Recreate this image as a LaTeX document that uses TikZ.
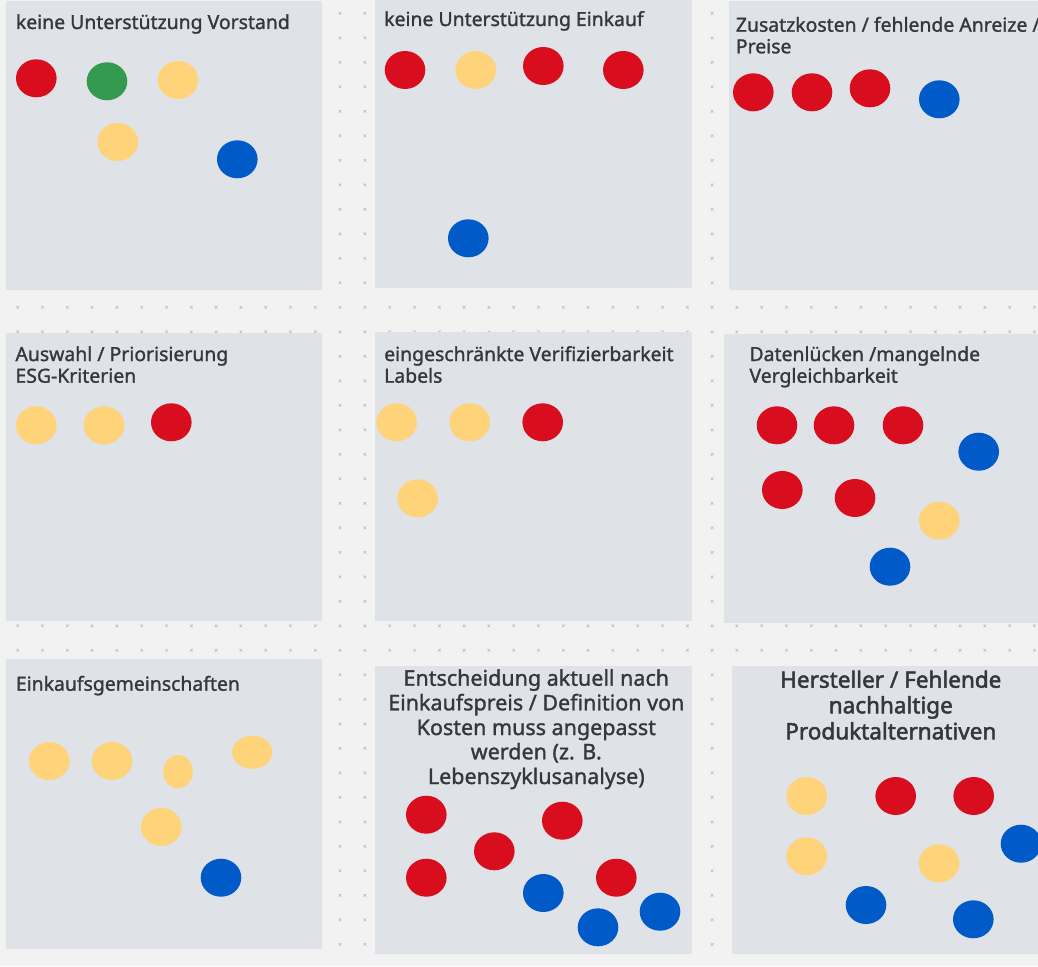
\documentclass[tikz,border=0pt]{standalone}
\usepackage{fontspec}
\setmainfont{Noto Sans}
\newfontfamily\semib[FakeBold=1.3]{Noto Sans}
\newfontfamily\strongb[FakeBold=2.2]{Noto Sans}
\definecolor{bgc}{HTML}{F2F2F2}
\definecolor{panelc}{HTML}{DFE2E7}
\definecolor{markc}{HTML}{BDBDBD}
\definecolor{txtc}{HTML}{34373C}
\definecolor{redc}{HTML}{D80D1E}
\definecolor{greenc}{HTML}{339A4F}
\definecolor{yelc}{HTML}{FFD379}
\definecolor{bluec}{HTML}{005AC8}
\tikzset{
  panel/.style={fill=panelc},
  dotr/.style={fill=redc},
  dotg/.style={fill=greenc},
  doty/.style={fill=yelc},
  dotb/.style={fill=bluec},
  ttl/.style={inner sep=0pt, anchor=base west, text=txtc, font=\semib\fontsize{19.4}{22}\selectfont},
  bttl/.style={inner sep=0pt, anchor=base, text=txtc, font=\semib\fontsize{21.5}{24}\selectfont},
  cttl/.style={inner sep=0pt, anchor=base, text=txtc, font=\strongb\fontsize{22.5}{26}\selectfont},
}
\newcommand{\dt}[3]{\fill[#1] (#2,#3) ellipse [x radius=20.3, y radius=19];}
\begin{document}
\begin{tikzpicture}[x=1pt,y=-1pt]
\useasboundingbox (0,0) rectangle (1038,966);
\fill[bgc] (0,0) rectangle (1038,966);
\foreach \i in {0,...,41} \foreach \j in {0,...,38} {
  \draw[markc, line width=0.6pt] ({17.7+24.8*\i-1.3},{13.3+24.5*\j-1.3}) -- ++(2.6,2.6)
    ({17.7+24.8*\i-1.3},{13.3+24.5*\j+1.3}) -- ++(2.6,-2.6);
}
% panels
\fill[panel] (6,1) rectangle (322,289.5);
\fill[panel] (375,0) rectangle (692,287.5);
\fill[panel] (728.5,1) rectangle (1038,289.5);
\fill[panel] (6,332.5) rectangle (322,621);
\fill[panel] (375,331.5) rectangle (692,621);
\fill[panel] (723.5,333.5) rectangle (1038,622.5);
\fill[panel] (6,659) rectangle (322,948.5);
\fill[panel] (375,666) rectangle (692,953.5);
\fill[panel] (731.5,666) rectangle (1038,954);
% titles
\node[ttl] (t1) at (15.7,29) {keine Unterstützung Vorstand};
\node[ttl] (t2) at (384,26) {keine Unterstützung Einkauf};
\node[ttl] (t3a) at (735.7,31.7) {Zusatzkosten / fehlende Anreize /};
\node[ttl] (t3b) at (735.7,53.3) {Preise};
\node[ttl] (t4a) at (15.3,361) {Auswahl / Priorisierung};
\node[ttl] (t4b) at (15.3,382.7) {ESG-Kriterien};
\node[ttl] (t5a) at (384,361) {eingeschränkte Verifizierbarkeit};
\node[ttl] (t5b) at (384,382.7) {Labels};
\node[ttl] (t6a) at (749.3,361) {Datenlücken /mangelnde};
\node[ttl] (t6b) at (749.3,382.7) {Vergleichbarkeit};
\node[ttl] (t7) at (15.7,690.7) {Einkaufsgemeinschaften};
\node[bttl] (t8a) at (536.3,685.7) {Entscheidung aktuell nach};
\node[bttl] (t8b) at (536.3,710.3) {Einkaufspreis / Definition von};
\node[bttl] (t8c) at (536.3,735) {Kosten muss angepasst};
\node[bttl] (t8d) at (536.3,759.3) {werden (z. B.};
\node[bttl] (t8e) at (536.3,784) {Lebenszyklusanalyse)};
\node[cttl] (t9a) at (890.8,687.7) {Hersteller / Fehlende};
\node[cttl] (t9b) at (890.8,713.3) {nachhaltige};
\node[cttl] (t9c) at (890.8,739.3) {Produktalternativen};
% panel 1
\dt{dotr}{36.3}{78.3}
\dt{dotg}{107}{81.3}
\dt{doty}{178}{80}
\dt{doty}{117.7}{142}
\dt{dotb}{237.3}{159.3}
% panel 2
\dt{dotr}{405}{70}
\dt{doty}{475.7}{70}
\dt{dotr}{543.3}{66}
\dt{dotr}{623.3}{70}
\dt{dotb}{468.3}{238.3}
% panel 3
\dt{dotr}{753.3}{92.3}
\dt{dotr}{812}{92.3}
\dt{dotr}{870}{88.3}
\dt{dotb}{939.3}{99.3}
% panel 4
\dt{doty}{36.3}{425.3}
\dt{doty}{104}{425.3}
\dt{dotr}{171.3}{422.3}
% panel 5
\dt{doty}{396.7}{422.3}
\dt{doty}{469.7}{422.3}
\dt{dotr}{542.7}{422.3}
\dt{doty}{417.7}{498.3}
% panel 6
\dt{dotr}{777}{425.3}
\dt{dotr}{834}{425.3}
\dt{dotr}{903}{425.3}
\dt{dotb}{978.7}{451.7}
\dt{dotr}{782.3}{490}
\dt{dotr}{855}{498}
\dt{doty}{939.3}{520.7}
\dt{dotb}{890}{566.7}
% panel 7
\dt{doty}{49.3}{761}
\dt{doty}{112}{761}
\fill[doty] (178,771.7) ellipse [x radius=14.8, y radius=16.7];
\fill[doty] (252.3,752.3) ellipse [x radius=20.3, y radius=16.5];
\dt{doty}{161.3}{827}
\dt{dotb}{221}{877.7}
% panel 8
\dt{dotr}{426.3}{814.7}
\dt{dotr}{562.3}{820.7}
\dt{dotr}{494.3}{851.3}
\dt{dotr}{426.3}{877.7}
\dt{dotr}{616.3}{877.7}
\dt{dotb}{543.3}{893}
\dt{dotb}{660}{911.7}
\dt{dotb}{598}{927.3}
% panel 9
\dt{doty}{806.7}{796}
\dt{dotr}{895.7}{796}
\dt{dotr}{973.7}{796}
\dt{doty}{806.7}{856.3}
\dt{dotb}{1021}{843.7}
\dt{doty}{939}{863.3}
\dt{dotb}{866}{905}
\dt{dotb}{973.3}{919.3}
\end{tikzpicture}
\end{document}
